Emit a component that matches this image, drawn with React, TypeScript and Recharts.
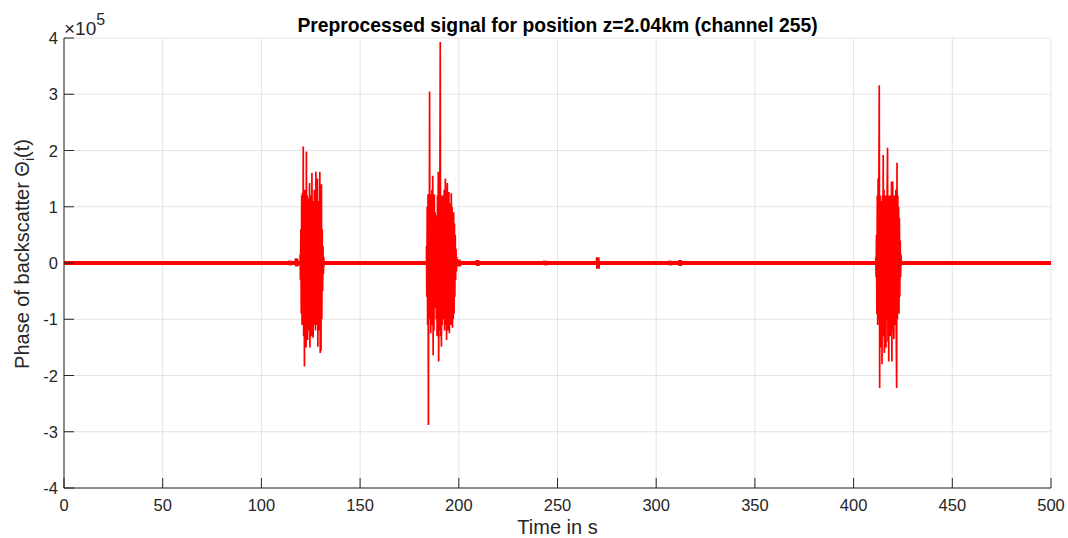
import { CartesianGrid, Line, LineChart, XAxis, YAxis } from "recharts";

// time axis (s) and phase axis (x 1e5)
const xTicks = [0, 50, 100, 150, 200, 250, 300, 350, 400, 450, 500];
const yTicks = [-4, -3, -2, -1, 0, 1, 2, 3, 4];

// quiet stretches between the bursts, with a few small blips
const baseT = [
  0, 60, 114.2, 114.4, 114.5, 114.7, 117.6, 117.8, 117.9, 118.1, 150, 199.8, 200, 200.2, 200.4,
  209.3, 209.5, 209.6, 209.8, 243.5, 243.7, 243.8, 244, 254.5, 254.7, 254.8, 255,
  270.2, 270.4, 270.5, 270.7, 306.8, 307, 307.1, 307.3, 311.9, 312.1, 312.2, 312.4, 360, 500,
];
const baseV = [
  0, 0, 0, 0.04, -0.04, 0, 0, 0.08, -0.06, 0, 0, 0, 0.06, -0.06, 0,
  0, 0.05, -0.05, 0, 0, 0.04, -0.04, 0, 0, 0.03, -0.03, 0,
  0, 0.1, -0.1, 0, 0, 0.04, -0.04, 0, 0, 0.05, -0.05, 0, 0, 0,
];

const sampleStep = 0.2;

const burst1Start = 119.6;
const burst1 = [
  0.15, -0.3, 0.6, -0.9, 1.2, -1.1, 1.25, -1.0, 2.07, -1.3,
  1.1, -1.84, 1.3, -1.2, 1.0, -1.5, 1.98, -1.1, 1.2, -1.37,
  0.9, -1.0, 1.15, -1.2, 1.42, -1.5, 1.0, -0.9, 1.2, -1.3,
  1.6, -1.0, 1.1, -1.33, 0.9, -1.1, 1.3, -0.9, 1.1, -1.2,
  1.62, -1.0, 1.2, -1.1, 1.5, -1.49, 1.0, -1.2, 1.1, -0.9,
  1.62, -1.6, 1.2, -1.56, 1.4, -1.0, 0.6, -0.5, 0.3, -0.2,
  0.1, -0.05,
];

const burst2Start = 183.6;
const burst2 = [
  0.3, -0.6, 1.0, -1.1, 1.22, -2.88, 1.2, -1.0, 3.05, -0.9,
  1.1, -1.25, 1.22, -1.0, 1.3, -1.1, 1.55, -1.64, 1.1, -1.2,
  1.22, -0.8, 0.9, -0.66, 0.8, -1.0, 0.85, -1.3, 1.2, -1.1,
  1.62, -1.75, 1.3, -1.2, 1.1, 3.93, -1.3, 1.2, -1.49, 1.0,
  -1.1, 1.2, -0.9, 1.1, -1.0, 1.3, -1.2, 1.0, 1.5, -1.1,
  1.2, -1.37, 1.1, 1.42, -1.2, 1.0, -1.0, 1.26, -1.25, 0.9,
  -1.0, 1.06, -1.1, 1.24, -0.9, 1.0, -1.15, 0.9, -1.0, 0.9,
  -0.9, 0.7, -0.6, 0.5, -0.3, 0.25, -0.15, 0.1, -0.05, 0.03,
];

const burst3Start = 411.2;
const burst3 = [
  0.1, -0.25, 0.5, -0.9, 1.2, -1.1, 1.5, -1.0, 1.3, 3.16,
  -2.22, 1.2, -1.5, 1.0, -1.2, 1.1, -1.8, 1.2, -1.3, 1.92,
  -1.1, 1.3, -1.6, 0.98, -1.2, 1.2, -1.5, 1.1, -1.0, 1.3,
  2.05, -1.4, 1.1, -1.75, 1.2, -1.2, 1.0, -1.3, 1.2, -1.1,
  1.45, -1.75, 1.1, 1.45, -1.2, 1.0, -1.35, 1.2, -1.1, 1.1,
  -1.0, 1.3, -1.2, -2.22, 1.78, -1.0, 1.2, -0.8, 1.0, -0.9,
  0.8, -0.6, 0.4, -0.25, 0.15, -0.05,
];

const baseline = baseT.map((t, i) => ({ t, v: baseV[i] }));
const toPoints = (start: number, vals: number[]) =>
  vals.map((v, i) => ({ t: +(start + i * sampleStep).toFixed(2), v }));
const bursts = [
  toPoints(burst1Start, burst1),
  toPoints(burst2Start, burst2),
  toPoints(burst3Start, burst3),
];

const ink = "#262626";
const font = "'Liberation Sans', Arial, sans-serif";

const XTick = ({ x, y, payload }: any) => (
  <g>
    <line x1={x} y1={y} x2={x} y2={y - 10} stroke={ink} strokeWidth={1} />
    <text x={x} y={y + 23} textAnchor="middle" fill={ink} fontSize={16.5} fontFamily={font}>
      {payload.value}
    </text>
  </g>
);

const YTick = ({ x, y, payload }: any) => (
  <g>
    <line x1={x} y1={y} x2={x + 10} y2={y} stroke={ink} strokeWidth={1} />
    <text x={x - 6} y={y + 6} textAnchor="end" fill={ink} fontSize={16.5} fontFamily={font}>
      {payload.value}
    </text>
  </g>
);

export default function App() {
  return (
    <div style={{ position: "absolute", left: 0, top: 0, width: 1068, height: 538, background: "#fff" }}>
      <LineChart width={1068} height={538} margin={{ top: 38, right: 17, bottom: 20, left: 4 }}>
        <CartesianGrid stroke="#e3e3e3" strokeWidth={1} />
        <XAxis
          dataKey="t"
          type="number"
          domain={[0, 500]}
          ticks={xTicks}
          interval={0}
          height={30}
          tickSize={0}
          tickMargin={0}
          tickLine={false}
          axisLine={{ stroke: ink }}
          tick={<XTick />}
          allowDuplicatedCategory={false}
        />
        <YAxis
          type="number"
          domain={[-4, 4]}
          ticks={yTicks}
          interval={0}
          width={60}
          tickSize={0}
          tickMargin={0}
          tickLine={false}
          axisLine={{ stroke: ink }}
          tick={<YTick />}
          allowDataOverflow
        />
        <Line data={baseline} dataKey="v" type="linear" stroke="#ff0000" strokeWidth={3.8} dot={false} isAnimationActive={false} />
        {bursts.map((b, i) => (
          <Line key={i} data={b} dataKey="v" type="linear" stroke="#ff0000" strokeWidth={1.7} dot={false} isAnimationActive={false} />
        ))}
      </LineChart>
      <svg width={1068} height={538} style={{ position: "absolute", left: 0, top: 0, pointerEvents: "none" }}>
        <text x={557.5} y={32} textAnchor="middle" fontWeight="bold" fontSize={19.3} fill="#000" fontFamily={font}>
          Preprocessed signal for position z=2.04km (channel 255)
        </text>
        <text x={64} y={35} fill={ink} fontSize={19} fontFamily={font}>
          ×10<tspan dy={-10} fontSize={16}>5</tspan>
        </text>
        <text x={557.5} y={534} textAnchor="middle" fill={ink} fontSize={20} fontFamily={font}>
          Time in s
        </text>
        <text transform="translate(29,254) rotate(-90)" textAnchor="middle" fill={ink} fontSize={20} fontFamily={font}>
          Phase of backscatter Θ<tspan dy={5} fontSize={14}>i</tspan>
          <tspan dy={-5}>(t)</tspan>
        </text>
      </svg>
    </div>
  );
}
